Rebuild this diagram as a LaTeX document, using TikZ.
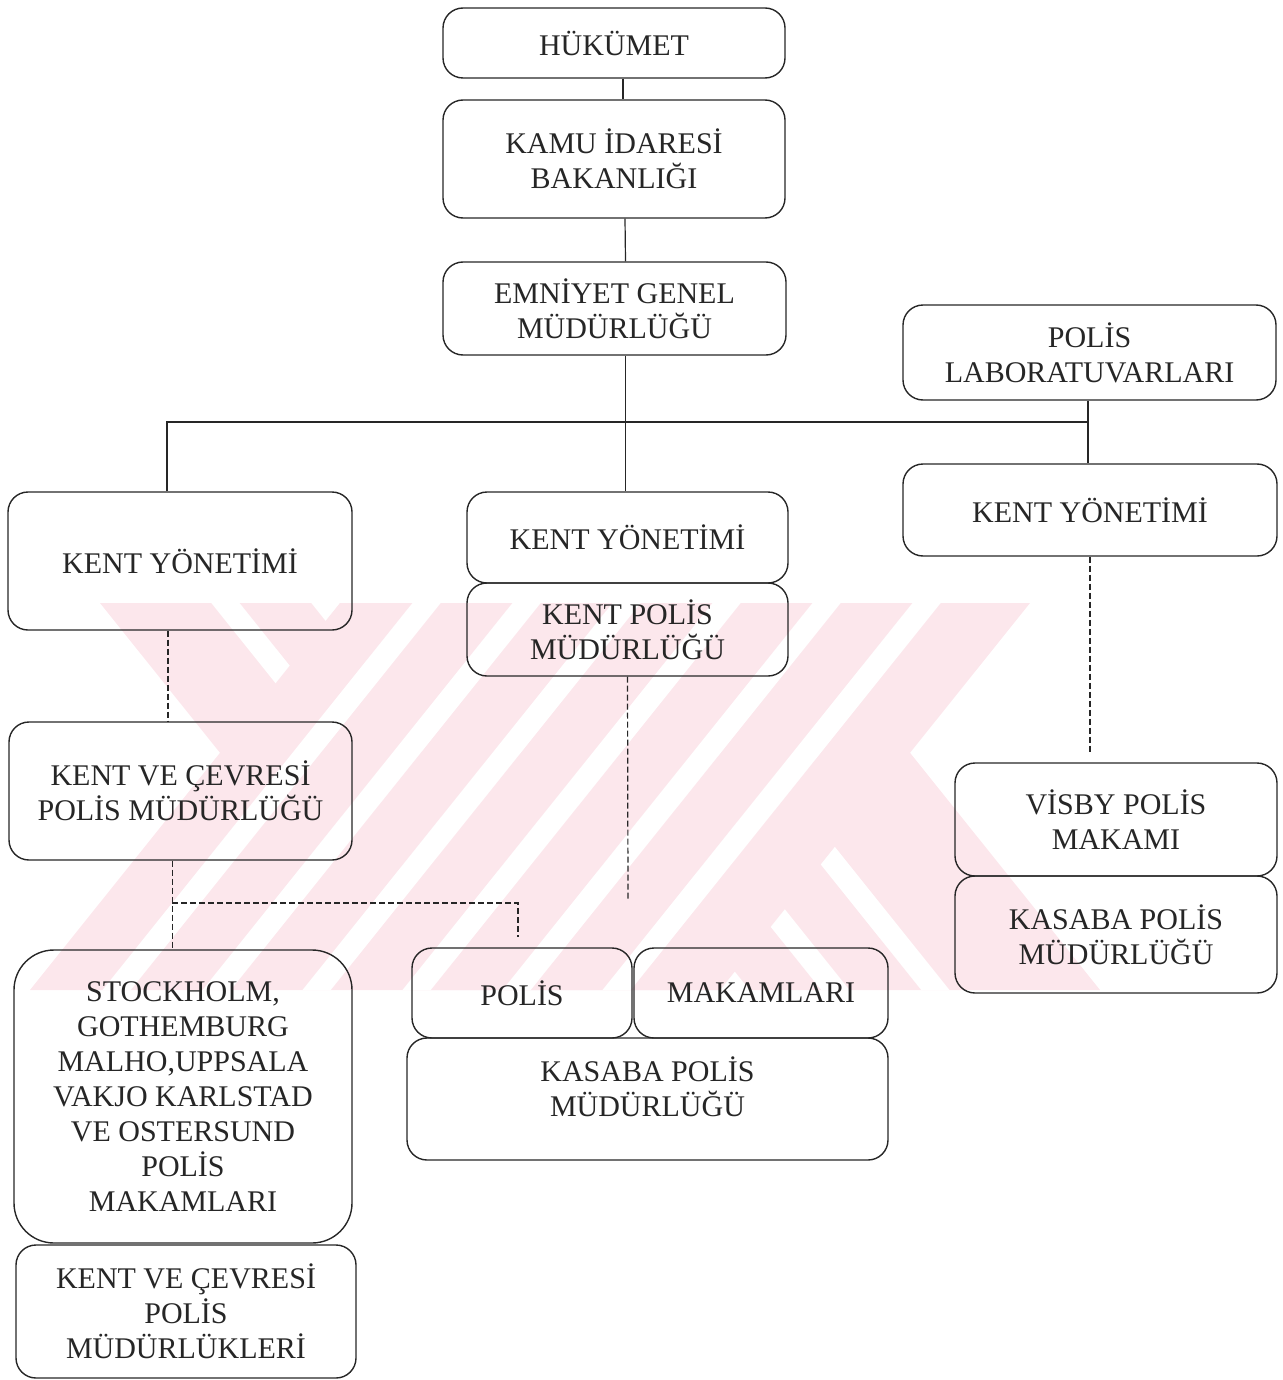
\documentclass[tikz,border=0pt]{standalone}
\usepackage{fontspec}
\setmainfont{Liberation Serif}
\usetikzlibrary{calc}
\definecolor{wmpink}{RGB}{252,231,236}
\begin{document}
\begin{tikzpicture}[x=0.5pt,y=-0.5pt,
  box/.style={draw=black!85, line width=0.7pt, rounded corners=10pt, align=center, inner sep=0pt,
    font=\fontsize{15}{17.5}\selectfont, text=black!85},
  dim/.style 2 args={minimum width=#1*0.5pt, minimum height=#2*0.5pt},
  conn/.style={draw=black!85, line width=0.6pt},
  dconn/.style={conn, dash pattern=on 3pt off 1.5pt},
  wm/.style={fill=wmpink, draw=none},
  gap/.style={draw=white, line width=11pt}]
\useasboundingbox (0,0) rectangle (1282,1380);
% faint watermark (background): two striped diagonal bands forming an X
\begin{scope}
  \fill[wm] (100,603) -- (790,603) -- (1100,990) -- (410,990) -- cycle;
  \clip (100,603) -- (790,603) -- (1100,990) -- (410,990) -- cycle;
  \foreach \t in {215,315,415,515,615} \draw[gap] (\t,590) -- ({\t+330},1002);
\end{scope}
\begin{scope}
  \fill[wm] (340,603) -- (1030,603) -- (720,990) -- (30,990) -- cycle;
  \clip (340,603) -- (1030,603) -- (720,990) -- (30,990) -- cycle;
  \foreach \t in {437,537,637,737,837,937} \draw[gap] (\t,590) -- ({\t-330},1002);
\end{scope}
% boxes
\node[box, dim={342}{70}]  (huk)   at (614,43)      {HÜKÜMET};
\node[box, dim={342}{118}] (kamu)  at (614,159)     {KAMU İDARESİ\\BAKANLIĞI};
\node[box, dim={343}{93}]  (egm)   at (614.5,308.5) {EMNİYET GENEL\\MÜDÜRLÜĞÜ};
\node[box, dim={373}{95}]  (lab)   at (1089.5,352.5){POLİS\\LABORATUVARLARI};
\node[box, dim={344}{138}] (kyL)   at (180,561)     {KENT YÖNETİMİ};
\node[box, dim={321}{91}]  (kyM)   at (627.5,537.5) {KENT YÖNETİMİ};
\node[box, dim={321}{93}]  (kpm)   at (627.5,629.5) {KENT POLİS\\MÜDÜRLÜĞÜ};
\node[box, dim={374}{92}]  (kyR)   at (1090,510)    {KENT YÖNETİMİ};
\node[box, dim={343}{138}] (kvcL)  at (180.5,791)   {KENT VE ÇEVRESİ\\POLİS MÜDÜRLÜĞÜ};
\node[box, dim={322}{113}] (visby) at (1116,819.5)  {VİSBY POLİS\\MAKAMI};
\node[box, dim={322}{117}] (kasR)  at (1116,934.5)  {KASABA POLİS\\MÜDÜRLÜĞÜ};
\node[box, dim={220}{90}]  (polis) at (522,993)     {POLİS};
\node[box, dim={254}{90}]  (mak)   at (761,993)     {MAKAMLARI};
\node[box, dim={481}{122}] (kasM)  at (647.5,1099)  {};
\node[box, rounded corners=20pt, dim={338}{293}] (stock) at (183,1096.5)
  {STOCKHOLM,\\GOTHEMBURG\\MALHO,UPPSALA\\VAKJO KARLSTAD\\VE OSTERSUND\\POLİS\\MAKAMLARI};
\node[box, dim={340}{133}] (kvcB)  at (186,1311.5)  {KENT VE ÇEVRESİ\\POLİS\\MÜDÜRLÜKLERİ};
\node[align=center, inner sep=0pt, font=\fontsize{15}{17.5}\selectfont, text=black!85]
  (kasMt) at (647.5,1087) {KASABA POLİS\\MÜDÜRLÜĞÜ};
% free ends
\coordinate (bus)  at (1088,422);
\coordinate (jL)   at (172,903);
\coordinate (pEnd) at (518,937);
\coordinate (mEnd) at (628,900);
\coordinate (rEnd) at (1090,754);
% connectors
\draw[conn] ([xshift=4.5pt]huk.south) -- ([xshift=4.5pt]kamu.north);
\draw[conn] ([xshift=5.5pt]kamu.south) -- ([xshift=5.5pt]egm.north);
\draw[conn] ([xshift=5.5pt]egm.south) -- ([xshift=5.5pt]egm.south |- kyM.north);
\draw[conn] ([xshift=-6.5pt]kyL.north) |- (bus);
\draw[conn] (lab.south -| bus) -- (kyR.north -| bus);
\draw[dconn] ([xshift=-6pt]kyL.south) -- ([xshift=-6pt]kyL.south |- kvcL.north);
\draw[dconn] ([xshift=-4pt]kvcL.south) -- ([xshift=-4pt]kvcL.south |- stock.north);
\draw[dconn] (jL) -| (pEnd);
\draw[dconn] (kpm.south) -- (mEnd);
\draw[dconn] (kyR.south) -- (rEnd);
\end{tikzpicture}
\end{document}
